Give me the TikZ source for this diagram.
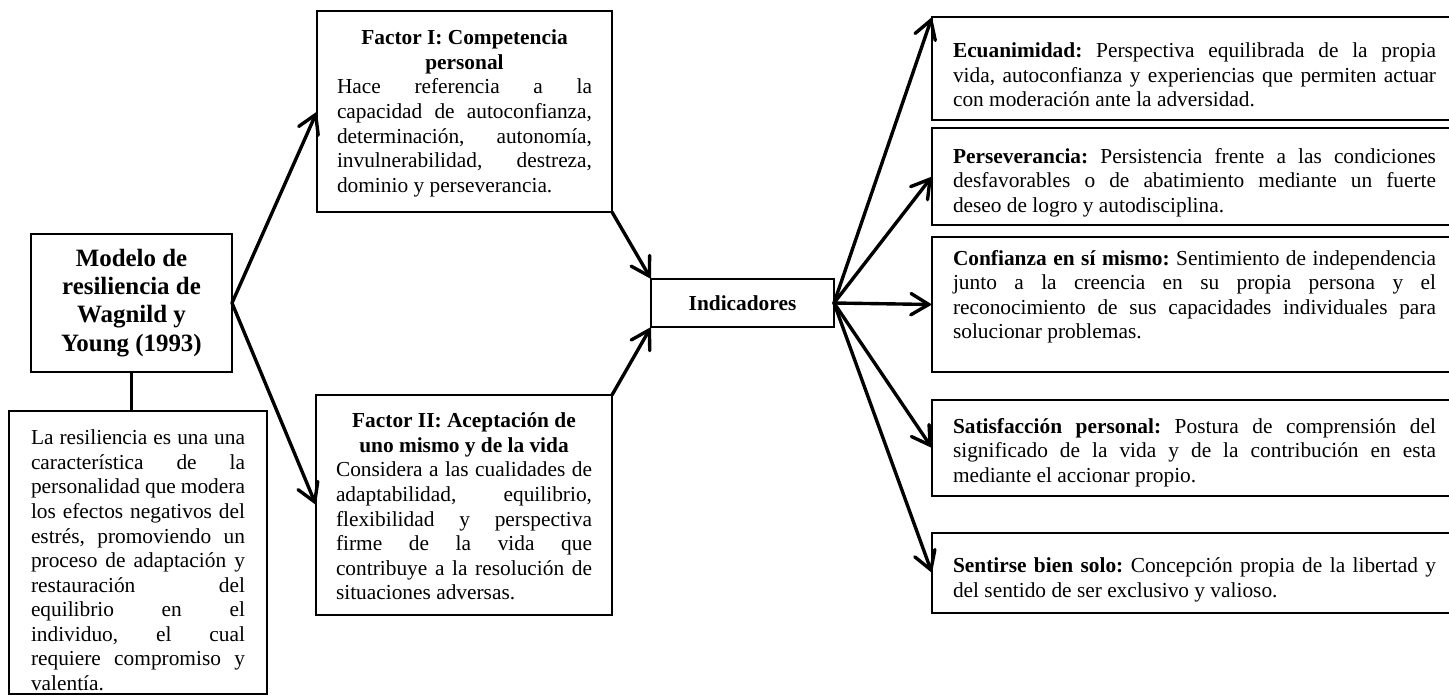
\documentclass[tikz,border=0pt]{standalone}
\usepackage{fontspec}
\setmainfont{Liberation Serif}
\usetikzlibrary{arrows.meta}
\frenchspacing
\newlength{\pxu}\setlength{\pxu}{0.5618pt}
\newcommand{\jl}[1]{\makebox[\hsize][s]{#1}\par}
\newcommand{\bx}[4]{\parbox[c][#2\pxu][t]{#1\pxu}{\fontsize{12}{13.8}\selectfont\frenchspacing\vspace*{#3\pxu}#4}}
\tikzset{
  box/.style={draw=black, line width=1.3pt, fill=white, inner ysep=0pt, outer sep=0pt},
  arr/.style={line width=1.9pt, line cap=round, -{Straight Barb[length=10pt,width=12pt,line cap=round]}},
  link/.style={line width=1.3pt}
}
\begin{document}
\begin{tikzpicture}[x=\pxu, y=-\pxu]
\useasboundingbox (0,0) rectangle (1449,696);
\fill[white] (0,0) rectangle (1449,696);

% Left
\node[box, inner xsep=6pt, inner ysep=3pt, minimum width=201\pxu, minimum height=138\pxu, align=center,
      font=\fontsize{14}{15.8}\selectfont\bfseries] (mod) at (131.5,303)
  {Modelo de\\resiliencia de\\Wagnild y\\Young (1993)};

\node[box, anchor=north west, inner xsep=22\pxu] (desc) at (9,411)
  {\bx{214}{283}{19}{%
   \jl{La resiliencia es una una}
   \jl{característica de la}
   \jl{personalidad que modera}
   \jl{los efectos negativos del}
   \jl{estrés, promoviendo un}
   \jl{proceso de adaptación y}
   \jl{restauración del}
   \jl{equilibrio en el}
   \jl{individuo, el cual}
   \jl{requiere compromiso y}
   valentía.}};

% Factors
\node[box, anchor=north west, inner xsep=20\pxu] (f1) at (317,11)
  {\bx{255}{201}{19}{%
   {\centering\bfseries Factor I: Competencia\\personal\par}
   \jl{Hace referencia a la}
   \jl{capacidad de autoconfianza,}
   \jl{determinación, autonomía,}
   \jl{invulnerabilidad, destreza,}
   dominio y perseverancia.}};

\node[box, anchor=north west, inner xsep=20\pxu] (f2) at (316,395)
  {\bx{256}{220}{18}{%
   {\centering\bfseries Factor II: Aceptación de\\uno mismo y de la vida\par}
   \jl{Considera a las cualidades de}
   \jl{adaptabilidad, equilibrio,}
   \jl{flexibilidad y perspectiva}
   \jl{firme de la vida que}
   \jl{contribuye a la resolución de}
   situaciones adversas.}};

% Center
\node[box, inner ysep=3pt, minimum width=183\pxu, minimum height=48\pxu, font=\fontsize{12}{13.8}\selectfont\bfseries] (ind) at (742.5,303) {Indicadores};

% Right boxes
\node[box, anchor=north west, inner xsep=21\pxu] (r1) at (932,17)
  {\bx{483}{103}{26}{%
   \jl{\textbf{Ecuanimidad:} Perspectiva equilibrada de la propia}
   \jl{vida, autoconfianza y experiencias que permiten actuar}
   con moderación ante la adversidad.}};

\node[box, anchor=north west, inner xsep=21\pxu] (r2) at (932,128)
  {\bx{483}{97}{20}{%
   \jl{\textbf{Perseverancia:} Persistencia frente a las condiciones}
   \jl{desfavorables o de abatimiento mediante un fuerte}
   deseo de logro y autodisciplina.}};

\node[box, anchor=north west, inner xsep=21\pxu] (r3) at (932,237)
  {\bx{483}{135}{13}{%
   \jl{\textbf{Confianza en sí mismo:} Sentimiento de independencia}
   \jl{junto a la creencia en su propia persona y el}
   \jl{reconocimiento de sus capacidades individuales para}
   solucionar problemas.}};

\node[box, anchor=north west, inner xsep=21\pxu] (r4) at (932,400)
  {\bx{483}{96}{18}{%
   \jl{\textbf{Satisfacción personal:} Postura de comprensión del}
   \jl{significado de la vida y de la contribución en esta}
   mediante el accionar propio.}};

\node[box, anchor=north west, inner xsep=21\pxu] (r5) at (932,533)
  {\bx{483}{80}{25}{%
   \jl{\textbf{Sentirse bien solo:} Concepción propia de la libertad y}
   del sentido de ser exclusivo y valioso.}};

% Connectors
\draw[link] (mod.south) -- (mod.south |- desc.north);
\draw[arr] (mod.east) -- (f1.west);
\draw[arr] (mod.east) -- (f2.west);
\draw[arr] (f1.south east) -- (ind.north west);
\draw[arr] (f2.north east) -- (ind.south west);
\draw[arr] (ind.east) -- (r1.north west);
\draw[arr] (ind.east) -- (r2.west);
\draw[arr] (ind.east) -- (r3.west);
\draw[arr] (ind.east) -- (r4.west);
\draw[arr] (ind.east) -- (r5.west);
\end{tikzpicture}
\end{document}
